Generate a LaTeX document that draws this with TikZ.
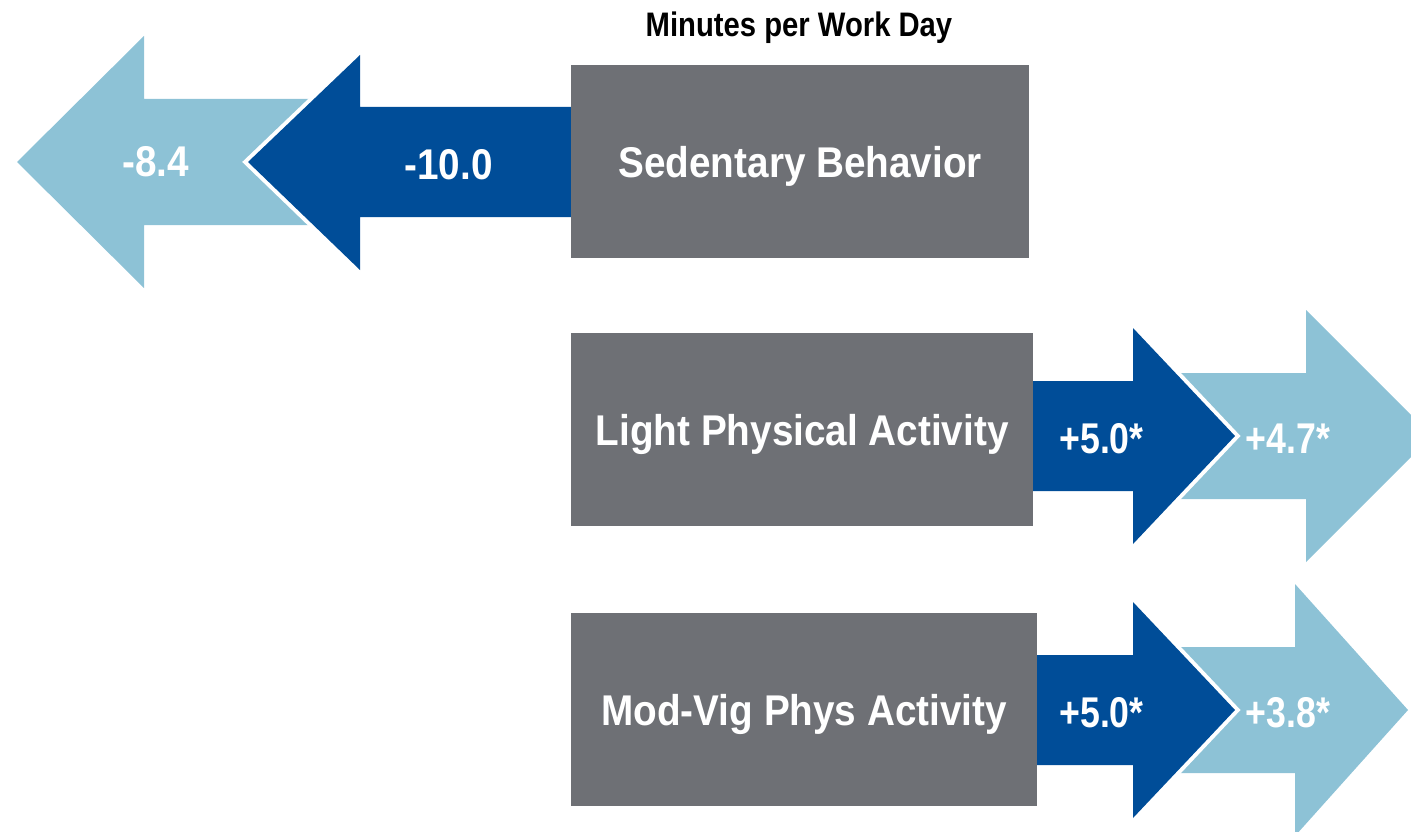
\documentclass[tikz,border=0pt]{standalone}
\usepackage{fontspec}
\setmainfont{Liberation Sans}
\newfontfamily\boxfont[FakeStretch=0.9]{Liberation Sans}
\newfontfamily\titlefont[FakeStretch=0.86]{Liberation Sans}
\newfontfamily\gainfont[FakeStretch=0.83]{Liberation Sans}
\definecolor{boxgray}{RGB}{110,112,117}
\definecolor{darkblue}{RGB}{0,77,152}
\definecolor{lightblue}{RGB}{141,194,214}

\begin{document}
\begin{tikzpicture}[x=1pt,y=-1pt,
  catbox/.style={fill=boxgray,text=white,inner sep=0pt,minimum height=193pt,anchor=west,
    font=\boxfont\bfseries\fontsize{43}{50}\selectfont,text height=31pt,text depth=0pt},
  darkarrow/.style={fill=darkblue,preaction={draw=white,line width=8pt}},
  lightarrow/.style={fill=lightblue},
  val/.style={text=white,inner sep=0pt,text height=31pt,text depth=0pt,
    font=\boxfont\bfseries\fontsize{43}{50}\selectfont},
  gain/.style={val,font=\gainfont\bfseries\fontsize{43}{50}\selectfont}]
\clip (0,0) rectangle (1411,832);

\node[font=\titlefont\bfseries\fontsize{34}{40}\selectfont,inner sep=0pt,text height=24pt,text depth=0pt]
  (title) at (799,25) {Minutes per Work Day};

% sedentary row, pointing left
\fill[lightarrow] (17,162) -- (144,36) -- (144,99) -- (340,99) -- (340,225)
  -- (144,225) -- (144,288) -- cycle;
\path[darkarrow] (600,107) -- (360,107) -- (360,55) -- (248,162) -- (360,270)
  -- (360,217) -- (600,217) -- cycle;
\node[catbox,minimum width=458pt] (sed) at (571,161.5) {Sedentary Behavior};
\node[val] (sed-light) at (155.5,160.5) {-8.4};
\node[val] (sed-dark) at (448.5,164) {-10.0};

% activity rows, pointing right
\foreach \by/\bw/\cy/\hx/\tx/\name/\txt/\dv/\lv in
  {429.5/462/436/1306/1432/lpa/Light Physical Activity/+5.0*/+4.7*,
   709.5/466/710/1295/1408/mvpa/Mod-Vig Phys Activity/+5.0*/+3.8*}{
  \fill[lightarrow] (1150,\cy-63) -- (\hx,\cy-63) -- (\hx,\cy-126) -- (\tx,\cy)
    -- (\hx,\cy+126) -- (\hx,\cy+63) -- (1150,\cy+63) -- cycle;
  \path[darkarrow] (1000,\cy-55) -- (1133,\cy-55) -- (1133,\cy-108) -- (1235,\cy)
    -- (1133,\cy+108) -- (1133,\cy+55) -- (1000,\cy+55) -- cycle;
  \node[catbox,minimum width=\bw pt] (\name) at (571,\by) {\txt};
  \node[gain] (\name-dark) at (1101.5,\cy+2) {\dv};
  \node[gain] (\name-light) at (1288,\cy+2) {\lv};
}
\end{tikzpicture}
\end{document}
